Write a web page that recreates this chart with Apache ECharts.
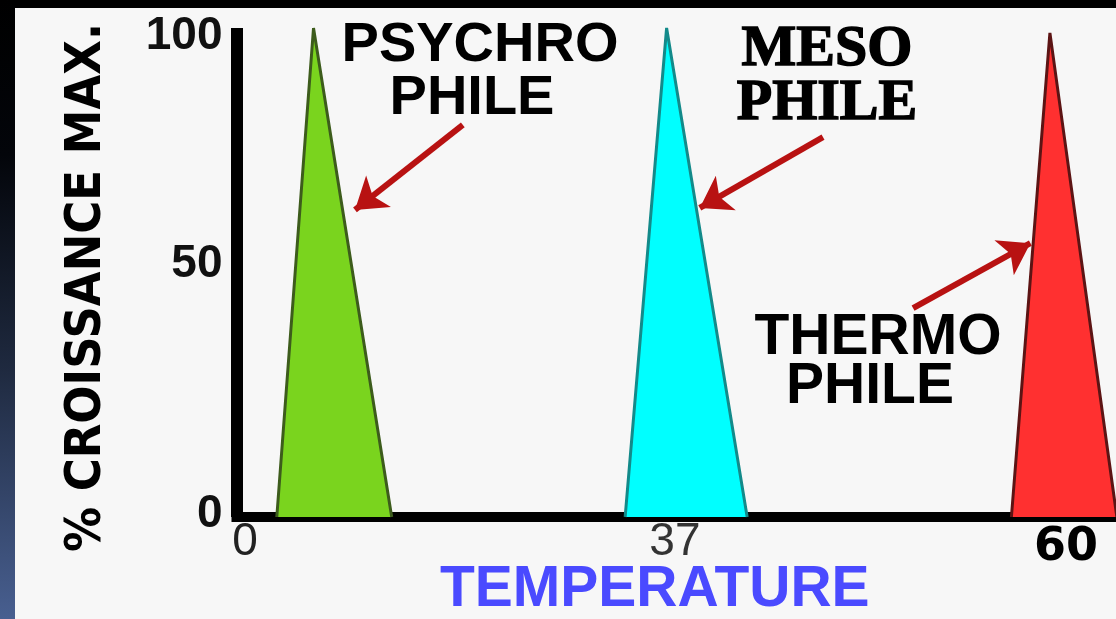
<!DOCTYPE html>
<html>
<head>
<meta charset="utf-8">
<script src="https://cdn.jsdelivr.net/npm/echarts@6/dist/echarts.min.js"></script>
<style>
html,body{margin:0;padding:0;background:#f7f7f7;}
#chart{width:1116px;height:619px;}
</style>
</head>
<body>
<div id="chart"></div>
<script>
// Schematic x positions (the original figure is not drawn to scale)
const xTickPos = [0, 37, 70];
const xTickText = ['0', '37', '60'];
const yTicks = [0, 50, 100];

// Triangles: [x, % max growth]
const psychro = [[3.4, 0], [6.5, 100], [13.1, 0]];
const meso = [[32.8, 0], [36.3, 100], [43.1, 0]];
const thermo = [[65.4, 0], [68.65, 99], [74.3, 0]];

// Arrow annotations (from -> to), data units
const arrowFrom = [[19.1, 80.2], [49.5, 77.7], [57.1, 42.7]];
const arrowTo = [[10.0, 62.8], [39.1, 63.2], [67.0, 56.0]];

const groupNames = ['PSYCHRO', 'MESO', 'THERMO'];
const suffix = 'PHILE';
const yName = '% CROISSANCE MAX.';
const xName = 'TEMPERATURE';

const chart = echarts.init(document.getElementById('chart'));

function tri(name, data, fill, edge) {
  return {
    name: name, type: 'line', data: data, symbol: 'none', silent: true,
    lineStyle: { color: edge, width: 3 },
    areaStyle: { color: fill, opacity: 1 },
    z: 3
  };
}

const series = [
  tri(groupNames[0], psychro, '#7ad41e', '#3d5c1c'),
  tri(groupNames[1], meso, '#00ffff', '#138a8a'),
  tri(groupNames[2], thermo, '#ff3030', '#5c1414'),
  {
    type: 'line', data: [], silent: true, z: 5,
    markLine: {
      silent: true,
      symbol: ['none', 'arrow'],
      symbolSize: 30,
      label: { show: false },
      lineStyle: { color: '#b81212', width: 6, type: 'solid' },
      data: arrowFrom.map((f, i) => [{ coord: f }, { coord: arrowTo[i] }])
    }
  }
];

const graphics = [
  { type: 'rect', shape: { x: 0, y: 0, width: 1116, height: 8 }, style: { fill: '#000' } },
  { type: 'rect', shape: { x: 0, y: 0, width: 15, height: 619 },
    style: { fill: new echarts.graphic.LinearGradient(0, 0, 0, 1, [
      { offset: 0, color: '#000000' }, { offset: 0.25, color: '#03050a' },
      { offset: 0.6, color: '#1f2a40' }, { offset: 1, color: '#485f90' }]) } },
  // PSYCHRO PHILE
  { type: 'text', x: 480, y: 46, style: { text: groupNames[0], align: 'center', verticalAlign: 'middle', fontFamily: 'Liberation Sans, Arial', fontWeight: 'bold', fontSize: 56, fill: '#000' } },
  { type: 'text', x: 472, y: 99, style: { text: suffix, align: 'center', verticalAlign: 'middle', fontFamily: 'Liberation Sans, Arial', fontWeight: 'bold', fontSize: 56, fill: '#000' } },
  // MESO PHILE
  { type: 'text', x: 827, y: 50, style: { text: groupNames[1], align: 'center', verticalAlign: 'middle', fontFamily: 'Liberation Serif, serif', fontWeight: 'bold', fontSize: 58, fill: '#000', stroke: '#000', lineWidth: 1.5 } },
  { type: 'text', x: 827, y: 104, style: { text: suffix, align: 'center', verticalAlign: 'middle', fontFamily: 'Liberation Serif, serif', fontWeight: 'bold', fontSize: 58, fill: '#000', stroke: '#000', lineWidth: 1.5 } },
  // THERMO PHILE
  { type: 'text', x: 878, y: 338, style: { text: groupNames[2], align: 'center', verticalAlign: 'middle', fontFamily: 'Liberation Sans, Arial', fontWeight: 'bold', fontSize: 57, fill: '#000' } },
  { type: 'text', x: 870, y: 387, style: { text: suffix, align: 'center', verticalAlign: 'middle', fontFamily: 'Liberation Sans, Arial', fontWeight: 'bold', fontSize: 57, fill: '#000' } }
];

const yLabelStyle = { fontFamily: 'Liberation Sans, Arial', fontWeight: 'bold', fontSize: 46, color: '#111' };

const option = {
  backgroundColor: '#f7f7f7',
  animation: false,
  grid: { left: 236.5, right: -21, top: 28, bottom: 102, containLabel: false, outerBoundsMode: 'none' },
  xAxis: {
    type: 'value', min: 0, max: 76,
    name: xName, nameLocation: 'middle', nameGap: 45, nameMoveOverlap: false,
    nameTextStyle: { fontFamily: 'Liberation Sans, Arial', fontWeight: 'bold', fontSize: 57, color: '#4a4aff', padding: [0, 64, 0, 0] },
    axisLine: { show: true, onZero: false, lineStyle: { color: '#000', width: 10, cap: 'square' } },
    axisTick: { show: false },
    splitLine: { show: false },
    axisLabel: {
      customValues: xTickPos,
      margin: 2,
      hideOverlap: false,
      formatter: function (v) {
        const i = xTickPos.indexOf(v);
        if (i < 0) return '';
        return '{s' + i + '|' + xTickText[i] + '}';
      },
      rich: {
        s0: { fontFamily: 'Liberation Sans, Arial', fontSize: 46, color: '#222', padding: [0, 0, 0, 17] },
        s1: { fontFamily: 'Liberation Sans, Arial', fontSize: 46, color: '#333' },
        s2: { fontFamily: 'DejaVu Sans', fontWeight: 'bold', fontSize: 46, color: '#000', padding: [6, 0, 0, 0] }
      }
    }
  },
  yAxis: {
    type: 'value', min: 0, max: 100, interval: 50,
    name: yName, nameLocation: 'middle', nameRotate: 90, nameGap: 124, nameMoveOverlap: false,
    nameTextStyle: { fontFamily: 'DejaVu Sans Condensed, Liberation Sans', fontWeight: 'bold', fontSize: 50, color: '#000', padding: [0, 30, 0, 0] },
    axisLine: { show: true, onZero: false, lineStyle: { color: '#000', width: 12, cap: 'butt' } },
    axisTick: { show: false },
    splitLine: { show: false },
    axisLabel: {
      margin: 14,
      customValues: yTicks,
      formatter: function (v) {
        const i = yTicks.indexOf(v);
        return '{y' + i + '|' + v + '}';
      },
      rich: {
        y0: Object.assign({ padding: [0, 0, 6, 0] }, yLabelStyle),
        y1: Object.assign({ padding: [0, 0, 16, 0] }, yLabelStyle),
        y2: Object.assign({ padding: [16, 0, 0, 0] }, yLabelStyle)
      }
    }
  },
  series: series,
  graphic: graphics
};
chart.setOption(option);
</script>
</body>
</html>
